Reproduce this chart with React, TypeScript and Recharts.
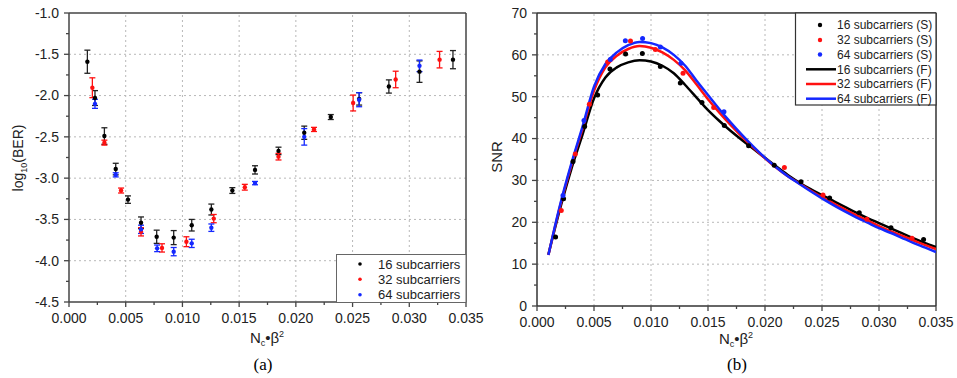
import React from 'react';
import { ScatterChart, ComposedChart, Scatter, Line, XAxis, YAxis, ErrorBar, ReferenceLine } from 'recharts';

// ---------- shared axis ticks ----------
const xMajorTicks = [0, 0.005, 0.01, 0.015, 0.02, 0.025, 0.03, 0.035];
const xMinorTicks = [0.0025, 0.0075, 0.0125, 0.0175, 0.0225, 0.0275, 0.0325];
const xGrid = [0.005, 0.01, 0.015, 0.02, 0.025, 0.03];

// ---------- panel (a): log10(BER) ----------
const berMajorTicks = [-4.5, -4.0, -3.5, -3.0, -2.5, -2.0, -1.5, -1.0];
const berMinorTicks = [-4.25, -3.75, -3.25, -2.75, -2.25, -1.75, -1.25];
const berGrid = [-4.0, -3.5, -3.0, -2.5, -2.0, -1.5];

const ber16 = [
  { x: 0.00162, y: -1.59, err: 0.14 },
  { x: 0.00229, y: -2.03, err: 0.09 },
  { x: 0.00312, y: -2.49, err: 0.1 },
  { x: 0.00412, y: -2.89, err: 0.07 },
  { x: 0.0052, y: -3.26, err: 0.045 },
  { x: 0.00635, y: -3.54, err: 0.07 },
  { x: 0.00773, y: -3.71, err: 0.08 },
  { x: 0.00923, y: -3.72, err: 0.085 },
  { x: 0.01082, y: -3.57, err: 0.07 },
  { x: 0.01255, y: -3.38, err: 0.066 },
  { x: 0.0144, y: -3.15, err: 0.035 },
  { x: 0.0164, y: -2.9, err: 0.05 },
  { x: 0.01847, y: -2.67, err: 0.045 },
  { x: 0.02074, y: -2.45, err: 0.08 },
  { x: 0.02308, y: -2.26, err: 0.03 },
  { x: 0.02558, y: -2.04, err: 0.075 },
  { x: 0.0282, y: -1.89, err: 0.08 },
  { x: 0.0309, y: -1.71, err: 0.13 },
  { x: 0.03385, y: -1.565, err: 0.11 },
];
const ber32 = [
  { x: 0.00206, y: -1.905, err: 0.12 },
  { x: 0.00312, y: -2.57, err: 0.03 },
  { x: 0.00459, y: -3.15, err: 0.03 },
  { x: 0.00635, y: -3.65, err: 0.05 },
  { x: 0.0082, y: -3.845, err: 0.05 },
  { x: 0.01035, y: -3.77, err: 0.06 },
  { x: 0.01276, y: -3.49, err: 0.05 },
  { x: 0.0155, y: -3.11, err: 0.035 },
  { x: 0.01847, y: -2.74, err: 0.04 },
  { x: 0.0216, y: -2.41, err: 0.025 },
  { x: 0.02505, y: -2.09, err: 0.096 },
  { x: 0.0288, y: -1.805, err: 0.1 },
  { x: 0.03267, y: -1.565, err: 0.1 },
];
const ber64 = [
  { x: 0.00229, y: -2.1, err: 0.055 },
  { x: 0.00412, y: -2.96, err: 0.025 },
  { x: 0.00635, y: -3.62, err: 0.05 },
  { x: 0.00777, y: -3.85, err: 0.04 },
  { x: 0.00923, y: -3.89, err: 0.05 },
  { x: 0.01082, y: -3.79, err: 0.05 },
  { x: 0.01255, y: -3.6, err: 0.045 },
  { x: 0.0164, y: -3.06, err: 0.02 },
  { x: 0.02074, y: -2.5, err: 0.1 },
  { x: 0.02558, y: -2.05, err: 0.085 },
  { x: 0.0309, y: -1.64, err: 0.07 },
];

// ---------- panel (b): SNR ----------
const snrMajorTicks = [0, 10, 20, 30, 40, 50, 60, 70];
const snrMinorTicks = [5, 15, 25, 35, 45, 55, 65];
const snrGrid = [10, 20, 30, 40, 50, 60];

const snr16S = [
  { x: 0.00163, y: 16.5 }, { x: 0.00233, y: 25.6 }, { x: 0.00316, y: 34.5 }, { x: 0.00418, y: 42.9 },
  { x: 0.00532, y: 50.4 }, { x: 0.0064, y: 56.6 }, { x: 0.00777, y: 60.2 }, { x: 0.00924, y: 60.3 },
  { x: 0.01082, y: 57.2 }, { x: 0.01257, y: 53.3 }, { x: 0.01447, y: 48.6 }, { x: 0.01643, y: 43.1 },
  { x: 0.01856, y: 38.3 }, { x: 0.02081, y: 33.6 }, { x: 0.02316, y: 29.7 }, { x: 0.02567, y: 25.8 },
  { x: 0.02827, y: 22.3 }, { x: 0.03105, y: 18.7 }, { x: 0.03391, y: 15.9 },
];
const snr32S = [
  { x: 0.00213, y: 22.8 }, { x: 0.00336, y: 36.3 }, { x: 0.00459, y: 48.2 }, { x: 0.0062, y: 58.3 },
  { x: 0.0082, y: 63.3 }, { x: 0.01038, y: 61.3 }, { x: 0.01281, y: 55.6 }, { x: 0.0155, y: 47.4 },
  { x: 0.0217, y: 33.1 }, { x: 0.02509, y: 26.5 }, { x: 0.02894, y: 20.7 }, { x: 0.03289, y: 16.2 },
];
const snr64S = [
  { x: 0.00228, y: 26.4 }, { x: 0.00412, y: 44.3 }, { x: 0.00643, y: 58.9 }, { x: 0.00775, y: 63.4 },
  { x: 0.00926, y: 63.9 }, { x: 0.01082, y: 61.9 }, { x: 0.01263, y: 58.0 }, { x: 0.0164, y: 46.4 },
];

const fitX = [
  0.001, 0.002, 0.003, 0.004, 0.005, 0.006, 0.007, 0.008, 0.009, 0.01, 0.011, 0.012,
  0.013, 0.014, 0.015, 0.016, 0.017, 0.018, 0.019, 0.02, 0.021, 0.022, 0.023, 0.024,
  0.025, 0.026, 0.027, 0.028, 0.029, 0.03, 0.031, 0.032, 0.033, 0.034, 0.035,
];
const snr16F = [
  12.3, 23.0, 32.6, 41.0, 49.6, 54.6, 57.0, 58.2, 58.7, 58.4, 57.4, 55.6,
  52.8, 49.8, 46.8, 44.2, 41.8, 39.6, 37.5, 35.4, 33.3, 31.3, 29.5, 27.9,
  26.5, 25.1, 23.7, 22.3, 21.0, 19.8, 18.6, 17.4, 16.2, 15.1, 14.1,
];
const snr32F = [
  12.2, 23.6, 33.5, 42.4, 51.4, 57.0, 59.8, 61.4, 62.1, 61.7, 60.6, 58.8,
  56.3, 52.9, 49.4, 46.2, 43.2, 40.4, 37.8, 35.3, 33.0, 31.0, 29.3, 27.6,
  26.0, 24.5, 23.1, 21.7, 20.4, 19.1, 17.9, 16.8, 15.7, 14.6, 13.6,
];
const snr64F = [
  12.2, 23.9, 33.9, 42.9, 52.4, 57.8, 60.6, 62.3, 63.1, 62.8, 61.8, 60.0,
  57.4, 53.8, 50.4, 47.0, 43.8, 40.8, 38.0, 35.4, 33.1, 31.0, 29.2, 27.4,
  25.7, 24.1, 22.6, 21.2, 19.9, 18.6, 17.5, 16.3, 15.1, 14.0, 12.9,
];

const toPts = (ys: number[]) => fitX.map((x, i) => ({ x, y: ys[i] }));

const FONT = '"Liberation Sans", Arial, sans-serif';
const AXIS = '#444';
const GRID = '#b8b8b8';
const BLACK = '#000000';
const RED = '#ff1010';
const BLUE = '#1428ff';

const xAll = [...xMajorTicks, ...xMinorTicks].sort((a, b) => a - b);
const berAll = [...berMajorTicks, ...berMinorTicks].sort((a, b) => a - b);
const snrAll = [...snrMajorTicks, ...snrMinorTicks].sort((a, b) => a - b);

const XTick = (props: any) => {
  const { x, y, payload } = props;
  const v = payload.value;
  const major = xMajorTicks.includes(v);
  return (
    <g>
      <line x1={x} x2={x} y1={y} y2={y + (major ? 5 : 3)} stroke={AXIS} strokeWidth={1.3} />
      {major && (
        <text x={x} y={y + 21} textAnchor="middle" fontSize={14} fontFamily={FONT} fill="#222">
          {v.toFixed(3)}
        </text>
      )}
    </g>
  );
};

const makeYTick = (majors: number[], fmt: (v: number) => string) => (props: any) => {
  const { x, y, payload } = props;
  const v = payload.value;
  const major = majors.includes(v);
  return (
    <g>
      <line x1={x} x2={x - (major ? 5 : 3)} y1={y} y2={y} stroke={AXIS} strokeWidth={1.3} />
      {major && (
        <text x={x - 10} y={y} dy="0.35em" textAnchor="end" fontSize={14} fontFamily={FONT} fill="#222">
          {fmt(v)}
        </text>
      )}
    </g>
  );
};

const BerTick = makeYTick(berMajorTicks, (v) => v.toFixed(1));
const SnrTick = makeYTick(snrMajorTicks, (v) => String(v));

const dot = (color: string, r: number) => (props: any) => (
  <circle cx={props.cx} cy={props.cy} r={r} fill={color} />
);

export default function App() {
  return (
    <div style={{ position: 'absolute', left: 0, top: 0, width: 957, height: 378, background: '#fff' }}>
      <div style={{ position: 'absolute', left: 0, top: 0 }}>
        <ScatterChart width={500} height={378} margin={{ top: 13, right: 34, bottom: 46, left: 19 }}>
          {xGrid.map((v) => (
            <ReferenceLine key={'gx' + v} x={v} stroke={GRID} strokeDasharray="2 3" />
          ))}
          {berGrid.map((v) => (
            <ReferenceLine key={'gy' + v} y={v} stroke={GRID} strokeDasharray="2 3" />
          ))}
          <ReferenceLine x={0.035} stroke={AXIS} strokeWidth={1.5} />
          <ReferenceLine y={-1.0} stroke={AXIS} strokeWidth={1.5} />
          <XAxis type="number" dataKey="x" domain={[0, 0.035]} ticks={xAll} interval={0} tickSize={0} tickMargin={0}
            tickLine={false} tick={<XTick />} height={30} axisLine={{ stroke: AXIS, strokeWidth: 1.5 }} allowDataOverflow />
          <YAxis type="number" dataKey="y" domain={[-4.5, -1.0]} ticks={berAll} interval={0} tickSize={0} tickMargin={0}
            tickLine={false} tick={<BerTick />} width={50} axisLine={{ stroke: AXIS, strokeWidth: 1.5 }} allowDataOverflow />
          <Scatter data={ber16} isAnimationActive={false} shape={dot(BLACK, 2.2)}>
            <ErrorBar dataKey="err" direction="y" width={3} stroke="#222" strokeWidth={1.3} />
          </Scatter>
          <Scatter data={ber32} isAnimationActive={false} shape={dot(RED, 2.2)}>
            <ErrorBar dataKey="err" direction="y" width={3} stroke={RED} strokeWidth={1.3} />
          </Scatter>
          <Scatter data={ber64} isAnimationActive={false} shape={dot(BLUE, 2.2)}>
            <ErrorBar dataKey="err" direction="y" width={3} stroke={BLUE} strokeWidth={1.3} />
          </Scatter>
        </ScatterChart>
      </div>
      <div style={{ position: 'absolute', left: 480, top: 0 }}>
        <ComposedChart width={477} height={378} margin={{ top: 13, right: 21, bottom: 42, left: 17 }}>
          {xGrid.map((v) => (
            <ReferenceLine key={'gx' + v} x={v} stroke={GRID} strokeDasharray="2 3" />
          ))}
          {snrGrid.map((v) => (
            <ReferenceLine key={'gy' + v} y={v} stroke={GRID} strokeDasharray="2 3" />
          ))}
          <ReferenceLine x={0.035} stroke="#333" strokeWidth={1.5} />
          <ReferenceLine y={70} stroke="#333" strokeWidth={1.5} />
          <XAxis type="number" dataKey="x" domain={[0, 0.035]} ticks={xAll} interval={0} tickSize={0} tickMargin={0}
            tickLine={false} tick={<XTick />} height={30} axisLine={{ stroke: '#333', strokeWidth: 1.5 }} allowDataOverflow />
          <YAxis type="number" dataKey="y" domain={[0, 70]} ticks={snrAll} interval={0} tickSize={0} tickMargin={0}
            tickLine={false} tick={<SnrTick />} width={40} axisLine={{ stroke: '#333', strokeWidth: 1.5 }} allowDataOverflow />
          <Line data={toPts(snr16F)} dataKey="y" type="monotone" stroke={BLACK} strokeWidth={2.5} dot={false} isAnimationActive={false} />
          <Line data={toPts(snr32F)} dataKey="y" type="monotone" stroke={RED} strokeWidth={2.5} dot={false} isAnimationActive={false} />
          <Line data={toPts(snr64F)} dataKey="y" type="monotone" stroke={BLUE} strokeWidth={2.5} dot={false} isAnimationActive={false} />
          <Scatter data={snr16S} dataKey="y" isAnimationActive={false} shape={dot(BLACK, 2.5)} />
          <Scatter data={snr32S} dataKey="y" isAnimationActive={false} shape={dot(RED, 2.5)} />
          <Scatter data={snr64S} dataKey="y" isAnimationActive={false} shape={dot(BLUE, 2.5)} />
        </ComposedChart>
      </div>
      <svg width={957} height={378} style={{ position: 'absolute', left: 0, top: 0, pointerEvents: 'none' }}>
        {/* axis titles */}
        <text transform="translate(23,158) rotate(-90)" textAnchor="middle" fontSize={14} fontFamily={FONT} fill="#222">
          log<tspan fontSize={9} dy={4}>10</tspan><tspan dy={-4}>(BER)</tspan>
        </text>
        <text transform="translate(502,157) rotate(-90)" textAnchor="middle" fontSize={15} fontFamily={FONT} fill="#222">
          SNR
        </text>
        <text x={267} y={343} textAnchor="middle" fontSize={15} fontFamily={FONT} fill="#222">
          N<tspan fontSize={9} dy={3}>c</tspan><tspan dy={-3}>•β</tspan><tspan fontSize={9} dy={-6}>2</tspan>
        </text>
        <text x={736} y={344} textAnchor="middle" fontSize={15} fontFamily={FONT} fill="#222">
          N<tspan fontSize={9} dy={3}>c</tspan><tspan dy={-3}>•β</tspan><tspan fontSize={9} dy={-6}>2</tspan>
        </text>
        <text x={263} y={370} textAnchor="middle" fontSize={17} fontFamily='"Liberation Serif", "Times New Roman", serif' fill="#000">(a)</text>
        <text x={737} y={370} textAnchor="middle" fontSize={17} fontFamily='"Liberation Serif", "Times New Roman", serif' fill="#000">(b)</text>

        {/* legend (a) */}
        <rect x={336.5} y={254.5} width={129.5} height={48} fill="#fff" stroke="#666" strokeWidth={1} />
        {[
          { c: BLACK, t: '16 subcarriers', y: 264 },
          { c: RED, t: '32 subcarriers', y: 279.3 },
          { c: BLUE, t: '64 subcarriers', y: 294.7 },
        ].map((e) => (
          <g key={e.t}>
            <circle cx={360} cy={e.y} r={1.8} fill={e.c} />
            <text x={378} y={e.y} dy="0.35em" fontSize={13} fontFamily={FONT} fill="#222">{e.t}</text>
          </g>
        ))}

        {/* legend (b) */}
        <rect x={795.5} y={13} width={140.5} height={92} fill="#fff" stroke="#333" strokeWidth={1.2} />
        {[
          { c: BLACK, t: '16 subcarriers (S)', y: 25, line: false },
          { c: RED, t: '32 subcarriers (S)', y: 40, line: false },
          { c: BLUE, t: '64 subcarriers (S)', y: 54.5, line: false },
          { c: BLACK, t: '16 subcarriers (F)', y: 69.3, line: true },
          { c: RED, t: '32 subcarriers (F)', y: 84, line: true },
          { c: BLUE, t: '64 subcarriers (F)', y: 98.7, line: true },
        ].map((e) => (
          <g key={e.t}>
            {e.line ? (
              <line x1={806} x2={836} y1={e.y} y2={e.y} stroke={e.c} strokeWidth={2.5} />
            ) : (
              <circle cx={820} cy={e.y} r={2.2} fill={e.c} />
            )}
            <text x={837} y={e.y} dy="0.35em" fontSize={12} fontFamily={FONT} fill="#222">{e.t}</text>
          </g>
        ))}
      </svg>
    </div>
  );
}
